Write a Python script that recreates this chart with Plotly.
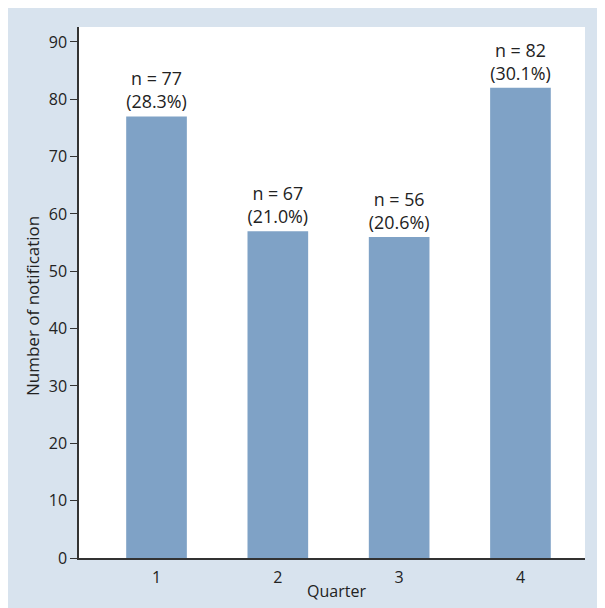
import plotly.graph_objects as go

quarters = [1, 2, 3, 4]
bar_heights = [77, 57, 56, 82]
n_labels = [77, 67, 56, 82]
pct_labels = ["28.3%", "21.0%", "20.6%", "30.1%"]

W, H = 597, 600
L, R, T, B = 71, 20, 19, 50
PH = H - T - B
OFF = 8  # page margin offset

texts = [f"n = {n}<br>({p})" for n, p in zip(n_labels, pct_labels)]

fig = go.Figure(go.Bar(
    x=quarters, y=bar_heights, width=0.5,
    marker=dict(color="#7fa2c6", line=dict(width=0)),
    text=texts, textposition="outside", cliponaxis=False,
    textfont=dict(size=18, color="#222222", family="Open Sans"),
))

fig.add_annotation(text="Number of notification", textangle=-90,
                   xref="paper", yref="paper", x=0, y=(H - B - (306 - OFF)) / PH,
                   xanchor="center", yanchor="middle", xshift=-46, showarrow=False,
                   font=dict(size=17, color="#222222"))
fig.add_annotation(text="Quarter",
                   xref="paper", yref="paper", x=0.5, y=(H - B - (591 - OFF)) / PH,
                   xanchor="center", yanchor="middle", xshift=4, showarrow=False,
                   font=dict(size=16, color="#222222"))

fig.update_layout(
    width=W, height=H,
    margin=dict(l=L, r=R, t=T, b=B, pad=0),
    paper_bgcolor="#d8e3ee", plot_bgcolor="white",
    font=dict(family="Open Sans", size=16, color="#222222"),
    showlegend=False,
    xaxis=dict(range=[0.361, 4.532], tickvals=quarters, ticks="outside", ticklen=4,
               tickcolor="rgba(0,0,0,0)", showgrid=False, zeroline=False,
               showline=True, linecolor="#333333", linewidth=1.5, automargin=False,
               tickfont=dict(size=16)),
    yaxis=dict(range=[0, 92.6], tickvals=list(range(0, 91, 10)), ticks="outside", ticklen=7,
               tickcolor="#333333", showgrid=False, zeroline=False,
               showline=True, linecolor="#333333", linewidth=1.5, automargin=False,
               tickfont=dict(size=16)),
)

fig.write_html("out.html")
